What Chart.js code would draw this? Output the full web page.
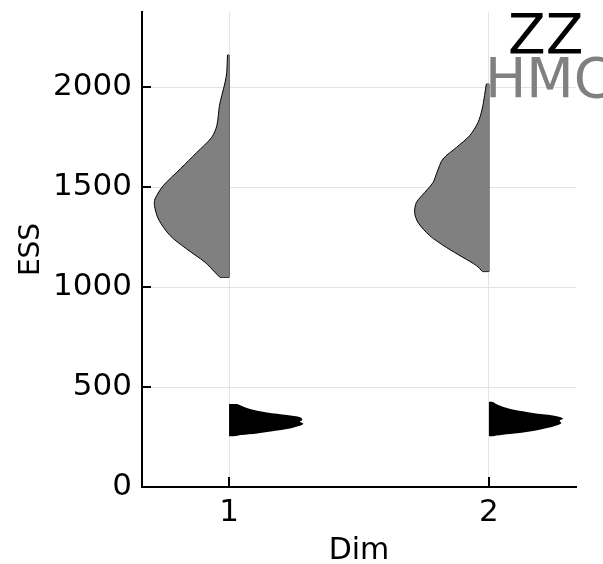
<!DOCTYPE html>
<html>
<head>
<meta charset="utf-8">
<script src="https://cdn.jsdelivr.net/npm/chart.js@4"></script>
<style>
  body { margin: 0; background: #fff; }
</style>
</head>
<body>
<canvas id="violin" width="603" height="564"></canvas>
<script>
// categories and ticks
const dims = [1, 2];
const essTicks = [0, 500, 1000, 1500, 2000];
const seriesNames = ["ZZ", "HMC"];
const seriesColors = ["#000000", "#808080"];

// HMC half violins (ESS level, half width in Dim units), left of each Dim
const hmcEss1 = [1048, 1073, 1123, 1190, 1257, 1340, 1407, 1440, 1507, 1590, 1673, 1748, 1807, 1907, 1957, 2025, 2073, 2160];
const hmcDens1 = [0.035, 0.054, 0.092, 0.163, 0.227, 0.272, 0.287, 0.285, 0.253, 0.188, 0.124, 0.067, 0.047, 0.037, 0.028, 0.015, 0.009, 0.006];
const hmcEss2 = [1077, 1107, 1148, 1198, 1257, 1323, 1373, 1423, 1473, 1523, 1573, 1640, 1698, 1757, 1823, 1890, 1957, 2015];
const hmcDens2 = [0.025, 0.048, 0.100, 0.164, 0.228, 0.273, 0.286, 0.279, 0.247, 0.215, 0.200, 0.177, 0.125, 0.074, 0.042, 0.026, 0.017, 0.010];

// ZZ half violins, right of each Dim
const zzEss1 = [253, 260, 268, 282, 298, 315, 328, 335, 348, 360, 373, 390, 415];
const zzDens1 = [0.019, 0.046, 0.108, 0.185, 0.250, 0.286, 0.273, 0.282, 0.276, 0.223, 0.146, 0.081, 0.031];
const zzEss2 = [252, 257, 265, 278, 298, 318, 332, 343, 357, 370, 387, 407, 428];
const zzDens2 = [0.015, 0.028, 0.080, 0.157, 0.233, 0.278, 0.272, 0.285, 0.246, 0.169, 0.092, 0.041, 0.012];

const FONT = "DejaVu Sans";

function halfViolin(dim, ess, dens, side, color, outline) {
  const pts = ess.map((e, i) => ({ x: dim + side * dens[i], y: e }));
  return {
    data: pts,
    fill: { value: dim },
    backgroundColor: color,
    borderColor: outline ? "#000000" : color,
    borderWidth: outline ? 1 : 0,
    pointRadius: 0,
    tension: 0.3
  };
}

function edge(dim, ess, dens, side) {
  const n = ess.length - 1;
  return {
    data: [
      { x: dim + side * dens[0], y: ess[0] },
      { x: dim, y: ess[0] },
      { x: dim, y: ess[n] },
      { x: dim + side * dens[n], y: ess[n] }
    ],
    fill: false,
    borderColor: "#000000",
    borderWidth: 1,
    pointRadius: 0,
    tension: 0
  };
}

const datasets = [
  halfViolin(dims[0], hmcEss1, hmcDens1, -1, seriesColors[1], true),
  edge(dims[0], hmcEss1, hmcDens1, -1),
  halfViolin(dims[1], hmcEss2, hmcDens2, -1, seriesColors[1], true),
  edge(dims[1], hmcEss2, hmcDens2, -1),
  halfViolin(dims[0], zzEss1, zzDens1, 1, seriesColors[0], false),
  halfViolin(dims[1], zzEss2, zzDens2, 1, seriesColors[0], false)
];

// ticks pointing into the plot
const innerTicks = {
  id: "innerTicks",
  afterDraw(chart) {
    const { ctx, chartArea: { left, bottom }, scales: { x, y } } = chart;
    ctx.save();
    ctx.strokeStyle = "#000";
    ctx.lineWidth = 2;
    ctx.beginPath();
    y.ticks.forEach(t => {
      const py = Math.round(y.getPixelForValue(t.value));
      ctx.moveTo(left, py);
      ctx.lineTo(left + 9, py);
    });
    x.ticks.forEach(t => {
      const px = Math.round(x.getPixelForValue(t.value));
      ctx.moveTo(px, bottom);
      ctx.lineTo(px, bottom - 10);
    });
    ctx.stroke();
    ctx.restore();
  }
};

// legend as big text entries, top right
const textLegend = {
  id: "textLegend",
  afterDraw(chart) {
    const { ctx, chartArea: { top, right } } = chart;
    ctx.save();
    ctx.font = "55px " + FONT;
    ctx.textAlign = "left";
    ctx.textBaseline = "alphabetic";
    ctx.fillStyle = seriesColors[0];
    ctx.fillText(seriesNames[0], right - 68, top + 41);
    ctx.fillStyle = seriesColors[1];
    ctx.fillText(seriesNames[1], right - 91, top + 85);
    ctx.restore();
  }
};

new Chart(document.getElementById("violin"), {
  type: "line",
  data: { datasets },
  options: {
    indexAxis: "y",
    responsive: false,
    animation: false,
    layout: { padding: { top: 12, right: 27, left: 0, bottom: 0 } },
    plugins: { legend: { display: false }, tooltip: { enabled: false } },
    scales: {
      x: {
        type: "linear",
        min: 0.665,
        max: 2.335,
        afterBuildTicks: s => { s.ticks = dims.map(v => ({ value: v })); },
        afterFit: s => { s.height = 77; s.paddingLeft = 0; s.paddingRight = 0; },
        grid: { color: "#e4e4e4", lineWidth: 1, drawTicks: false },
        border: { color: "#000", width: 2 },
        ticks: { color: "#000", font: { family: FONT, size: 31 }, padding: 7 },
        title: { display: true, text: "Dim", color: "#000", font: { family: FONT, size: 30 }, padding: { top: 0, bottom: -5 } }
      },
      y: {
        type: "linear",
        min: 0,
        max: 2375,
        afterBuildTicks: s => { s.ticks = essTicks.map(v => ({ value: v })); },
        afterFit: s => { s.width = 142; s.paddingTop = 0; s.paddingBottom = 0; },
        grid: { color: "#e4e4e4", lineWidth: 1, drawTicks: false },
        border: { color: "#000", width: 2 },
        ticks: { color: "#000", font: { family: FONT, size: 31 }, padding: 10, callback: v => String(v) },
        title: { display: true, text: "ESS", color: "#000", font: { family: FONT, size: 28 }, padding: { top: 15, bottom: 0 } }
      }
    }
  },
  plugins: [innerTicks, textLegend]
});
</script>
</body>
</html>
